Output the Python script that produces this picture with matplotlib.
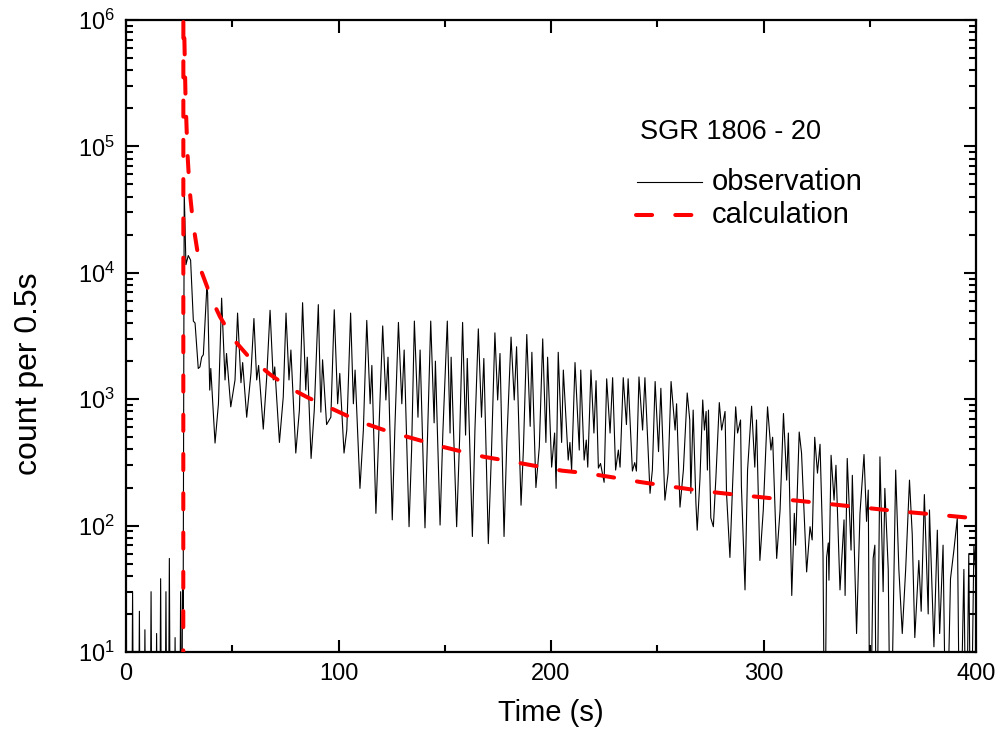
import matplotlib
matplotlib.use('Agg')
import matplotlib.pyplot as plt
from matplotlib.lines import Line2D
from matplotlib.ticker import LogLocator, NullFormatter, MultipleLocator, LogFormatterMathtext
import numpy as np

plt.rcParams['font.family'] = ['Liberation Sans', 'DejaVu Sans']
plt.rcParams['mathtext.fontset'] = 'custom'
plt.rcParams['mathtext.rm'] = 'Liberation Sans'
plt.rcParams['mathtext.it'] = 'Liberation Sans:italic'
plt.rcParams['mathtext.bf'] = 'Liberation Sans:bold'

# ---------------- data ----------------
title_text = "SGR 1806 - 20"
series_names = ["observation", "calculation"]
x_label = "Time (s)"
y_label = "count per 0.5s"
x_ticks = [0, 100, 200, 300, 400]

# observed light curve (time in s, counts per 0.5 s); values of 1 lie below the axis floor
obs_t = [0, 2.6, 3.1, 3.6, 5.8, 6.3, 6.8, 8.4, 8.9, 9.4, 11.3, 11.8, 12.3, 13.9, 14.4, 14.9,
         15.8, 16.3, 16.8, 18.3, 18.8, 19.3, 19.9, 20.4, 20.9, 22.6, 23.1, 23.6, 25.2, 25.7,
         26.2, 26.6, 26.9,
         27.4, 28.2, 29.3, 30.4, 31.2, 31.7, 32.5, 34.0, 34.8, 35.6, 36.4, 38.0, 38.4, 39.4,
         39.9, 41.9, 43.5, 45.0, 46.6, 47.3, 49.3, 51.3, 52.5, 54.1, 54.9, 56.8, 58.8, 60.2,
         61.5, 62.4, 64.6, 66.2, 67.8, 69.3, 70.0, 72.2, 74.0, 75.3, 76.7, 77.6, 79.9, 81.6,
         83.1, 84.6, 85.3, 87.1, 88.6, 90.5, 91.7, 92.5, 94.4, 96.4, 98.0, 99.6, 100.6, 102.6,
         103.9, 105.7, 107.0, 107.8, 110.1, 111.7, 113.3, 114.9, 115.7, 117.6, 119.0, 120.8,
         122.3, 123.3, 125.3, 126.5, 128.2, 129.8, 130.9, 133.2, 134.4, 135.7, 137.4, 138.4,
         140.7, 142.0, 143.4, 145.0, 145.6, 147.8, 149.1, 151.2, 152.5, 153.0, 155.6, 157.0,
         158.4, 159.8, 160.6, 163.0, 164.2, 165.8, 167.3, 168.4, 170.5, 172.0, 173.6, 174.9,
         176.0, 177.9, 179.2, 181.2, 182.7, 183.8, 185.9, 187.0, 188.6, 190.2, 191.0, 192.9,
         194.5, 196.1, 197.6, 198.4, 200.3, 201.7, 202.4, 203.4, 205.0, 205.8, 208.1, 208.9,
         209.7, 211.3, 213.3, 214.0, 215.6, 216.6, 217.3, 218.8, 220.2, 221.2, 222.3, 223.3,
         225.0, 226.2, 227.8, 229.0, 230.4, 231.7, 232.5, 234.0, 235.5, 236.3, 238.3, 239.4,
         240.2, 241.4, 243.1, 244.2, 246.6, 247.7, 249.0, 250.6, 251.7, 253.6, 255.1, 256.5,
         258.4, 259.1, 260.7, 262.3, 264.1, 265.3, 265.8, 266.9, 268.2, 268.8, 270.1, 271.4,
         272.2, 273.0, 273.6, 274.1, 275.2, 276.4, 277.6, 279.2, 280.3, 281.9, 282.6, 284.2,
         285.3, 286.9, 287.8, 289.2, 289.6, 291.3, 292.5, 294.4, 295.9, 296.7, 298.3, 299.9,
         301.9, 303.5, 304.3, 306.2, 307.8, 309.4, 310.9, 311.7, 313.3, 314.5, 315.1, 316.8,
         317.9, 320.3, 321.9, 322.9, 324.1, 325.4, 326.6, 328.0, 328.8, 329.7, 330.5, 330.8,
         331.8, 333.2, 334.1, 336.0, 337.9, 338.4, 339.4, 341.2, 341.8, 343.8, 345.4, 347.3,
         348.5, 349.3, 350.1, 351.6, 352.4, 353.2, 354.8, 356.3, 357.1, 358.7, 359.8, 362.2,
         363.7, 365.3, 366.9, 368.7, 370.0, 371.2, 373.1, 374.2, 375.7, 377.5, 378.1, 380.2,
         381.8, 382.9, 384.5, 386.0, 388.0, 389.6, 391.2, 392.4, 394.3, 395.4, 396.6, 397.6,
         399.0, 400.0]
obs_v = [1, 1, 30, 1, 1, 21, 1, 1, 15, 1, 1, 30, 1, 1, 14, 1,
         1, 38, 1, 1, 30, 1, 1, 55, 1, 1, 13, 1, 1, 30,
         1, 35, 22,
         44000, 11600, 13700, 12600, 6400, 4150, 4000, 1750, 1800, 2150, 2250, 7500, 7000, 1180,
         1750, 450, 920, 6300, 1420, 2300, 870, 1420, 4800, 1350, 1950, 720, 1600, 4350,
         1420, 1850, 580, 1480, 5050, 1420, 1800, 455, 1040, 4800, 1420, 2450, 375, 820,
         5800, 1180, 2150, 340, 820, 5600, 790, 2050, 630, 720, 5100, 920, 1600, 375,
         570, 4800, 920, 1700, 197, 570, 4200, 920, 1850, 125, 570, 3800,
         986, 2150, 111, 570, 4050, 920, 2450, 98, 396, 4150, 720, 2450,
         96, 570, 4150, 650, 2000, 101, 540, 4150, 540, 2150, 98, 490,
         4050, 520, 2100, 82, 570, 3600, 720, 2100, 72, 385, 3350, 986,
         2300, 82, 460, 3100, 986, 2600, 145, 396, 3250, 610, 2350, 200,
         420, 3000, 455, 2150, 290, 540, 197, 2350, 455, 1700, 330, 455,
         275, 1950, 396, 1700, 330, 475, 290, 1700, 540, 1400, 285, 310,
         220, 1450, 540, 1480, 275, 396, 290, 1480, 630, 1450, 270, 315,
         270, 1500, 570, 1480, 180, 275, 1380, 385, 1220, 159, 260, 1380,
         570, 920, 140, 275, 1120, 685, 180, 820, 150, 92, 235, 986,
         570, 800, 275, 820, 115, 98, 240, 940, 570, 800, 180, 56,
         180, 870, 540, 685, 205, 31, 275, 880, 290, 685, 53, 133,
         870, 396, 500, 55, 133, 770, 229, 540, 28, 125, 70, 550,
         375, 43, 98, 77, 500, 260, 440, 60, 1, 56, 73, 37,
         360, 159, 300, 31, 111, 28, 340, 64, 250, 14, 125, 365,
         108, 191, 1, 55, 70, 1, 350, 30, 197, 45, 1, 275,
         45, 14, 45, 229, 85, 13, 53, 21, 176, 20, 133, 11,
         92, 14, 70, 1, 38, 64, 115, 1, 45, 1, 60, 1,
         70, 40]

# model calculation
calc_t = [26.95, 27.0, 27.3, 28.0, 28.9, 29.9, 31.5, 34.8, 40.5, 44.2, 50.4, 57.4, 67.8,
          76.2, 85.6, 95.0, 104.0, 113.4, 122.8, 131.3, 140.7, 147.8, 159.5, 168.5, 177.4,
          186.4, 195.8, 205.2, 214.6, 223.0, 233.0, 241.4, 251.0, 259.8, 269.0, 278.6, 288.0,
          297.0, 306.0, 315.0, 324.7, 331.3, 343.0, 352.0, 361.0, 370.0, 384.0, 393.0, 400.0]
calc_v = [1, 3e6, 1e6, 2.5e5, 9e4, 4.6e4, 2.5e4, 1.1e4, 6100, 4500, 3000, 2200, 1570,
          1250, 1030, 870, 740, 635, 560, 510, 460, 425, 380, 350, 330,
          310, 290, 272, 262, 250, 235, 222, 210, 200, 190, 182, 175,
          169, 163, 158, 152, 148, 141, 136, 131, 127, 121, 117, 114]

# ---------------- figure ----------------
fig = plt.figure(figsize=(10, 7.44), dpi=100)
ax = fig.add_axes([0.126, 1 - 652 / 744, 0.85, 632 / 744])

ax.plot(obs_t, obs_v, color='black', lw=0.8, zorder=2)
ax.plot(calc_t, calc_v, color='#ff0000', lw=2.9, dashes=(4, 5.75),
        dash_capstyle='round', zorder=3)

ax.set_yscale('log')
ax.set_ylim(10, 1e6)
ax.set_xlim(0, 400)
ax.set_xticks(x_ticks)
ax.xaxis.set_minor_locator(MultipleLocator(50))
ax.yaxis.set_major_locator(LogLocator(base=10))
ax.yaxis.set_major_formatter(LogFormatterMathtext())
ax.yaxis.set_minor_locator(LogLocator(base=10, subs=np.arange(2, 10)))
ax.yaxis.set_minor_formatter(NullFormatter())

ax.tick_params(which='both', direction='in', top=True, right=True, width=1.5,
               labelsize=17, color='black')
ax.tick_params(which='major', length=9, pad=8)
ax.tick_params(which='minor', length=5)
for s in ax.spines.values():
    s.set_linewidth(1.6)

ax.set_xlabel(x_label, fontsize=21, labelpad=10)
ax.set_ylabel(y_label, fontsize=23)
ax.yaxis.set_label_coords(-0.097, 0.441)

# legend (drawn as a manual key)
ax.text(0.6047, 0.8228, title_text, transform=ax.transAxes, fontsize=19.5,
        ha='left', va='center')
ax.add_line(Line2D([0.6012, 0.6776], [0.7437, 0.7437], transform=ax.transAxes,
                   color='black', lw=0.8))
ax.add_line(Line2D([0.6000, 0.6706], [0.6915, 0.6915], transform=ax.transAxes,
                   color='#ff0000', lw=2.9, dashes=(4, 5.75), dash_capstyle='round'))
ax.text(0.6894, 0.7437, series_names[0], transform=ax.transAxes, fontsize=21,
        ha='left', va='center')
ax.text(0.6894, 0.6915, series_names[1], transform=ax.transAxes, fontsize=21,
        ha='left', va='center')

fig.savefig('out.png', dpi=100)
